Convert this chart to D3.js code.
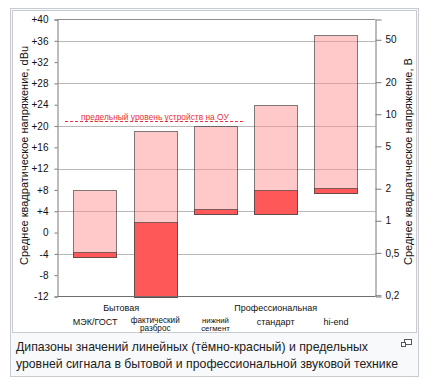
<!DOCTYPE html>
<html><head><meta charset="utf-8">
<script src="https://cdn.jsdelivr.net/npm/d3@7"></script>
<style>
html,body{margin:0;padding:0;background:#fff;}
svg{display:block;font-family:"Liberation Sans",Arial,sans-serif;}
</style></head>
<body>
<svg id="chart" width="440" height="379"></svg>
<script>
// ---- data ----
const categories = ["МЭК/ГОСТ", "фактический разброс", "нижний сегмент", "стандарт", "hi-end"];
const categoryLines = [["МЭК/ГОСТ"], ["фактический", "разброс"], ["нижний", "сегмент"], ["стандарт"], ["hi-end"]];
const groupLabels = ["Бытовая", "Профессиональная"];
const groupFirst = [0, 2];
const groupLast = [1, 4];
const linearLow = [-4.5, -12, 3.5, 3.5, 7.4];   // dBu, dark red (linear level range)
const linearHigh = [-3.7, 2, 4.4, 8, 8.4];
const peakHigh = [8, 19, 20, 24, 37];           // dBu, pink (peak level)
const leftTicks = [-12, -8, -4, 0, 4, 8, 12, 16, 20, 24, 28, 32, 36, 40];
const leftTickLabels = ["-12", "-8", "-4", "0", "+4", "+8", "+12", "+16", "+20", "+24", "+28", "+32", "+36", "+40"];
const gridValues = [-4, 4, 12, 20, 28, 36];
const rightTicks = [0.2, 0.5, 1, 2, 5, 10, 20, 50];
const rightTickLabels = ["0,2", "0,5", "1", "2", "5", "10", "20", "50"];
const opampLimit = 21;
const opampLabel = "предельный уровень устройств на ОУ";
const leftTitle = "Среднее квадратическое напряжение, dBu";
const rightTitle = "Среднее квадратическое напряжение, В";
const captionLines = ["Дипазоны значений линейных (тёмно-красный) и предельных",
                      "уровней сигнала в бытовой и профессиональной звуковой технике"];

// ---- layout ----
const svg = d3.select("#chart");
const plotL = 57.5, plotR = 375.5, plotT = 19.5, plotB = 296.5;
const y = d3.scaleLinear().domain([-12, 40]).range([plotB, plotT]);
const dbuToV = d => 0.775 * Math.pow(10, d / 20);
const yV = d3.scaleLog().domain([dbuToV(-12), dbuToV(40)]).range([plotB, plotT]);
const x = d3.scaleBand().domain(categories).range([65, 366]).paddingInner(0.28).paddingOuter(0.14);

// frame
svg.append("rect").attr("x", 10.5).attr("y", 8.5).attr("width", 408).attr("height", 368)
  .attr("fill", "#f8f9fa").attr("stroke", "#c8ccd1");
svg.append("rect").attr("x", 12.5).attr("y", 10.5).attr("width", 404).attr("height", 322)
  .attr("fill", "#fff").attr("stroke", "#c8ccd1");

// gridlines
svg.append("g").selectAll("line").data(gridValues).join("line")
  .attr("x1", plotL).attr("x2", plotR)
  .attr("y1", d => Math.round(y(d)) + 0.5).attr("y2", d => Math.round(y(d)) + 0.5)
  .attr("stroke", "#b8b8b8").attr("stroke-width", 1);

// bars
const px = v => Math.round(v) + 0.5;
const bars = svg.append("g");
bars.selectAll("rect.peak").data(categories).join("rect").attr("class", "peak")
  .attr("x", d => px(x(d))).attr("width", Math.round(x.bandwidth()))
  .attr("y", (d, i) => px(y(peakHigh[i])))
  .attr("height", (d, i) => Math.round(y(linearLow[i])) - Math.round(y(peakHigh[i])))
  .attr("fill", "#ff8f8f").attr("fill-opacity", 0.48)
  .attr("stroke", "#3a3a3a").attr("stroke-opacity", 0.65);
bars.selectAll("rect.lin").data(categories).join("rect").attr("class", "lin")
  .attr("x", d => px(x(d))).attr("width", Math.round(x.bandwidth()))
  .attr("y", (d, i) => px(y(linearHigh[i])))
  .attr("height", (d, i) => Math.round(y(linearLow[i])) - Math.round(y(linearHigh[i])))
  .attr("fill", "#ff5858")
  .attr("stroke", "#3a3a3a").attr("stroke-opacity", 0.65);

// plot border (top) and axes
svg.append("line").attr("x1", plotL).attr("x2", plotR).attr("y1", plotT).attr("y2", plotT)
  .attr("stroke", "#8c8c8c");
svg.append("line").attr("x1", plotL).attr("x2", plotR).attr("y1", plotB).attr("y2", plotB)
  .attr("stroke", "#6e6e6e");

const leftAxis = d3.axisLeft(y).tickValues(leftTicks).tickSize(3).tickPadding(6)
  .tickFormat((d, i) => leftTickLabels[i]);
const gl = svg.append("g").attr("transform", `translate(${plotL},0)`).call(leftAxis);
gl.select(".domain").attr("stroke", "#7a7a7a");
gl.selectAll(".tick line").attr("stroke", "#7a7a7a");
gl.selectAll("text").attr("font-size", 10).attr("fill", "#111").attr("font-family", "Liberation Sans, Arial, sans-serif");

const rightAxis = d3.axisRight(yV).tickValues(rightTicks).tickSize(6).tickPadding(4)
  .tickFormat((d, i) => rightTickLabels[i]);
const gr = svg.append("g").attr("transform", `translate(${plotR},0)`).call(rightAxis);
gr.select(".domain").attr("stroke", "#7a7a7a");
gr.selectAll(".tick line").attr("stroke", "#7a7a7a");
gr.selectAll("text").attr("font-size", 10).attr("fill", "#111").attr("font-family", "Liberation Sans, Arial, sans-serif");

// axis titles
svg.append("text").attr("transform", "translate(28,265) rotate(-90)")
  .attr("font-size", 11).attr("fill", "#111").text(leftTitle);
svg.append("text").attr("transform", "translate(412,265) rotate(-90)")
  .attr("font-size", 11).attr("fill", "#111").text(rightTitle);

// op-amp limit line
svg.append("line").attr("x1", 65).attr("x2", 243)
  .attr("y1", Math.round(y(opampLimit)) + 0.5).attr("y2", Math.round(y(opampLimit)) + 0.5)
  .attr("stroke", "#f0303c").attr("stroke-width", 1.1).attr("stroke-dasharray", "3,2");
svg.append("text").attr("x", 81).attr("y", y(opampLimit) - 0.8)
  .attr("font-size", 8.4).attr("fill", "#e8303a").text(opampLabel);

// category labels
const cx = d => x(d) + x.bandwidth() / 2;
const lab = svg.append("g").attr("font-size", 9).attr("fill", "#111").attr("text-anchor", "middle");
categoryLines.forEach((lines, i) => {
  const c = cx(categories[i]);
  if (lines.length === 1) {
    lab.append("text").attr("x", c).attr("y", 325).text(lines[0]);
  } else {
    const fs = i === 2 ? 7.8 : 8.2;
    lines.forEach((t, j) => {
      lab.append("text").attr("x", c).attr("y", 322.5 + j * 8.3)
        .attr("font-size", fs).text(t);
    });
  }
});
const groupShift = [-4, 0];
groupLabels.forEach((g, i) => {
  const c = (cx(categories[groupFirst[i]]) + cx(categories[groupLast[i]])) / 2 + groupShift[i];
  lab.append("text").attr("x", c).attr("y", 310.5).text(g);
});

// caption
const captionWidths = [352, 382];
const cap = svg.append("g").attr("font-size", 12.8).attr("fill", "#202122");
captionLines.forEach((t, i) => {
  cap.append("text").attr("x", 16).attr("y", 351 + i * 16.5)
    .attr("textLength", captionWidths[i]).attr("lengthAdjust", "spacingAndGlyphs").text(t);
});
// enlarge icon
const ic = svg.append("g").attr("fill", "#fff").attr("stroke", "#54595d");
ic.append("rect").attr("x", 404.5).attr("y", 339.5).attr("width", 7).attr("height", 5);
ic.append("rect").attr("x", 401.5).attr("y", 342.5).attr("width", 4).attr("height", 4);
</script>
</body></html>
